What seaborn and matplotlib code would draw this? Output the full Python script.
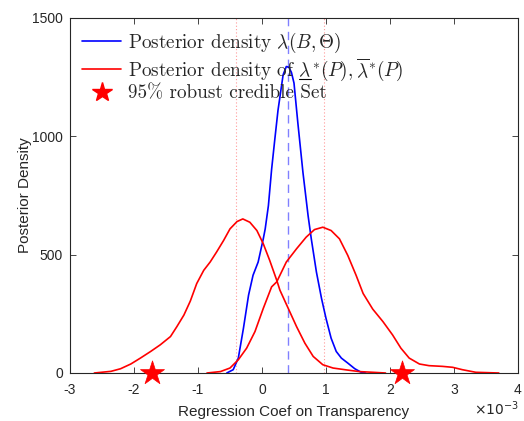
import numpy as np
import pandas as pd
import matplotlib
matplotlib.use("Agg")
import matplotlib.pyplot as plt
import seaborn as sns
from matplotlib.lines import Line2D

# Data (x in units of 1e-3)
blue_x = [-0.55, -0.45, -0.37, -0.29, -0.21, -0.14, -0.06, 0.02, 0.05, 0.10, 0.15, 0.20, 0.25,
          0.29, 0.33, 0.38, 0.42, 0.46, 0.50, 0.56, 0.64, 0.72, 0.77, 0.85, 0.93, 1.00, 1.08,
          1.16, 1.24, 1.34, 1.45, 1.55, 1.62]
blue_y = [0, 14, 63, 189, 329, 413, 469, 567, 609, 707, 860, 987, 1110,
          1185, 1260, 1295, 1292, 1270, 1225, 1057, 847, 665, 567, 427, 315, 231, 147,
          91, 63, 42, 18, 3, 0]

lower_x = [-2.62, -2.36, -2.21, -2.05, -1.90, -1.74, -1.59, -1.43, -1.33, -1.22, -1.12, -1.02,
           -0.91, -0.81, -0.71, -0.60, -0.50, -0.39, -0.30, -0.19, -0.08, 0.02, 0.12, 0.23,
           0.28, 0.41, 0.54, 0.67, 0.80, 0.95, 1.11, 1.32, 1.52, 1.73, 1.93]
lower_y = [0, 7, 18, 38, 63, 91, 119, 154, 196, 245, 304, 378,
           434, 469, 511, 560, 609, 640, 651, 637, 602, 546, 476, 392,
           350, 273, 196, 126, 70, 35, 21, 13, 6, 3, 0]

upper_x = [-0.86, -0.65, -0.50, -0.37, -0.24, -0.11, 0.02, 0.15, 0.23, 0.38, 0.54, 0.69, 0.82,
           0.95, 1.08, 1.21, 1.34, 1.47, 1.58, 1.73, 1.89, 2.04, 2.17, 2.30, 2.46, 2.61, 2.82,
           2.98, 3.13, 3.34, 3.70]
upper_y = [0, 6, 21, 56, 105, 175, 273, 364, 385, 469, 525, 574, 606,
           616, 602, 567, 497, 413, 336, 270, 217, 161, 105, 63, 38, 31, 28,
           24, 14, 3, 0]

star_x = [-1.72, 2.18]
star_y = [0, 0]

blue_mode = 0.40
red_lines = [-0.41, 0.97]

x_ticks = [-3, -2, -1, 0, 1, 2, 3, 4]
y_ticks = [0, 500, 1000, 1500]

sns.set_theme(style="ticks")
plt.rcParams['font.family'] = ['Liberation Sans', 'DejaVu Sans']
plt.rcParams['mathtext.fontset'] = 'cm'

W, H = 524, 421
fig = plt.figure(figsize=(W / 100, H / 100), dpi=100)
ax = fig.add_axes([70 / W, 48 / H, 448 / W, 355 / H])

df_b = pd.DataFrame({'x': blue_x, 'y': blue_y})
df_l = pd.DataFrame({'x': lower_x, 'y': lower_y})
df_u = pd.DataFrame({'x': upper_x, 'y': upper_y})

for v in red_lines:
    ax.axvline(v, color=(1, 0.6, 0.6), lw=0.8, ls=(0, (1, 2)), zorder=1)
ax.axvline(blue_mode, color=(0.5, 0.5, 1), lw=1.0, ls=(0, (6, 4)), zorder=1)

sns.lineplot(data=df_b, x='x', y='y', ax=ax, color='#0000ff', lw=1.2, sort=False, estimator=None)
sns.lineplot(data=df_l, x='x', y='y', ax=ax, color='#ff0000', lw=1.2, sort=False, estimator=None)
sns.lineplot(data=df_u, x='x', y='y', ax=ax, color='#ff0000', lw=1.2, sort=False, estimator=None)
sns.scatterplot(x=star_x, y=star_y, ax=ax, marker='*', s=330, color='#ff0000',
                edgecolor='#ff0000', linewidth=0.5, zorder=5, clip_on=False)

ax.set_xlim(-3, 4)
ax.set_ylim(0, 1500)
ax.set_xticks(x_ticks)
ax.set_xticklabels([str(t) for t in x_ticks])
ax.set_yticks(y_ticks)
ax.set_yticklabels([str(t) for t in y_ticks])
ax.tick_params(direction='in', top=True, right=True, labelsize=10, length=4, width=0.6,
               colors='#262626')
ax.tick_params(axis='x', pad=7)
ax.tick_params(axis='y', pad=5)
for s in ax.spines.values():
    s.set_linewidth(0.8)
    s.set_color('#262626')
ax.set_xlabel('Regression Coef on Transparency', fontsize=11, color='#262626', labelpad=6)
ax.set_ylabel('Posterior Density', fontsize=11, color='#262626', labelpad=0)
fig.text(0.905, 0.015, r'$\times10^{-3}$', fontsize=10, color='#262626',
         math_fontfamily='dejavusans')

# legend labels
lab1 = r'Posterior density $\lambda(B,\Theta)$'
lab2 = r'Posterior density of $\lambda^{*}(P),\overline{\lambda}^{*}(P)$'
lab3 = r'95% robust credible Set'

FS = 13.8
prop = {'family': 'cmr10', 'size': FS}
handles = [Line2D([], [], color='#0000ff', lw=1.2),
           Line2D([], [], color='#ff0000', lw=1.2),
           Line2D([], [], color='#ff0000', marker='*', ls='none', markersize=15)]
leg = ax.legend(handles, [lab1, lab2, lab3], loc='upper left', frameon=False,
                prop=prop, handlelength=2.0, handletextpad=0.37,
                labelspacing=0.08, borderaxespad=0.25)

# underline under the first lambda of the second label
fig.canvas.draw()
r = fig.canvas.get_renderer()
t2 = leg.get_texts()[1]
fp = t2.get_fontproperties()
tmp_a = fig.text(0, 0, r'Posterior density of $\lambda$', fontproperties=fp)
tmp_b = fig.text(0, 0, r'$\lambda$', fontproperties=fp)
wa = tmp_a.get_window_extent(r).width
wb = tmp_b.get_window_extent(r).width
tmp_a.remove()
tmp_b.remove()
bb = t2.get_window_extent(r)
_, _, desc = r.get_text_width_height_descent(lab2, fp, ismath=True)
baseline = bb.y0 + desc
x0 = bb.x0 + wa - wb
x1 = bb.x0 + wa
yu = baseline - 3.0
fig.add_artist(Line2D([x0 / W, x1 / W], [yu / H, yu / H], color='black', lw=0.8,
                      transform=fig.transFigure))

fig.savefig('out.png', dpi=100)
